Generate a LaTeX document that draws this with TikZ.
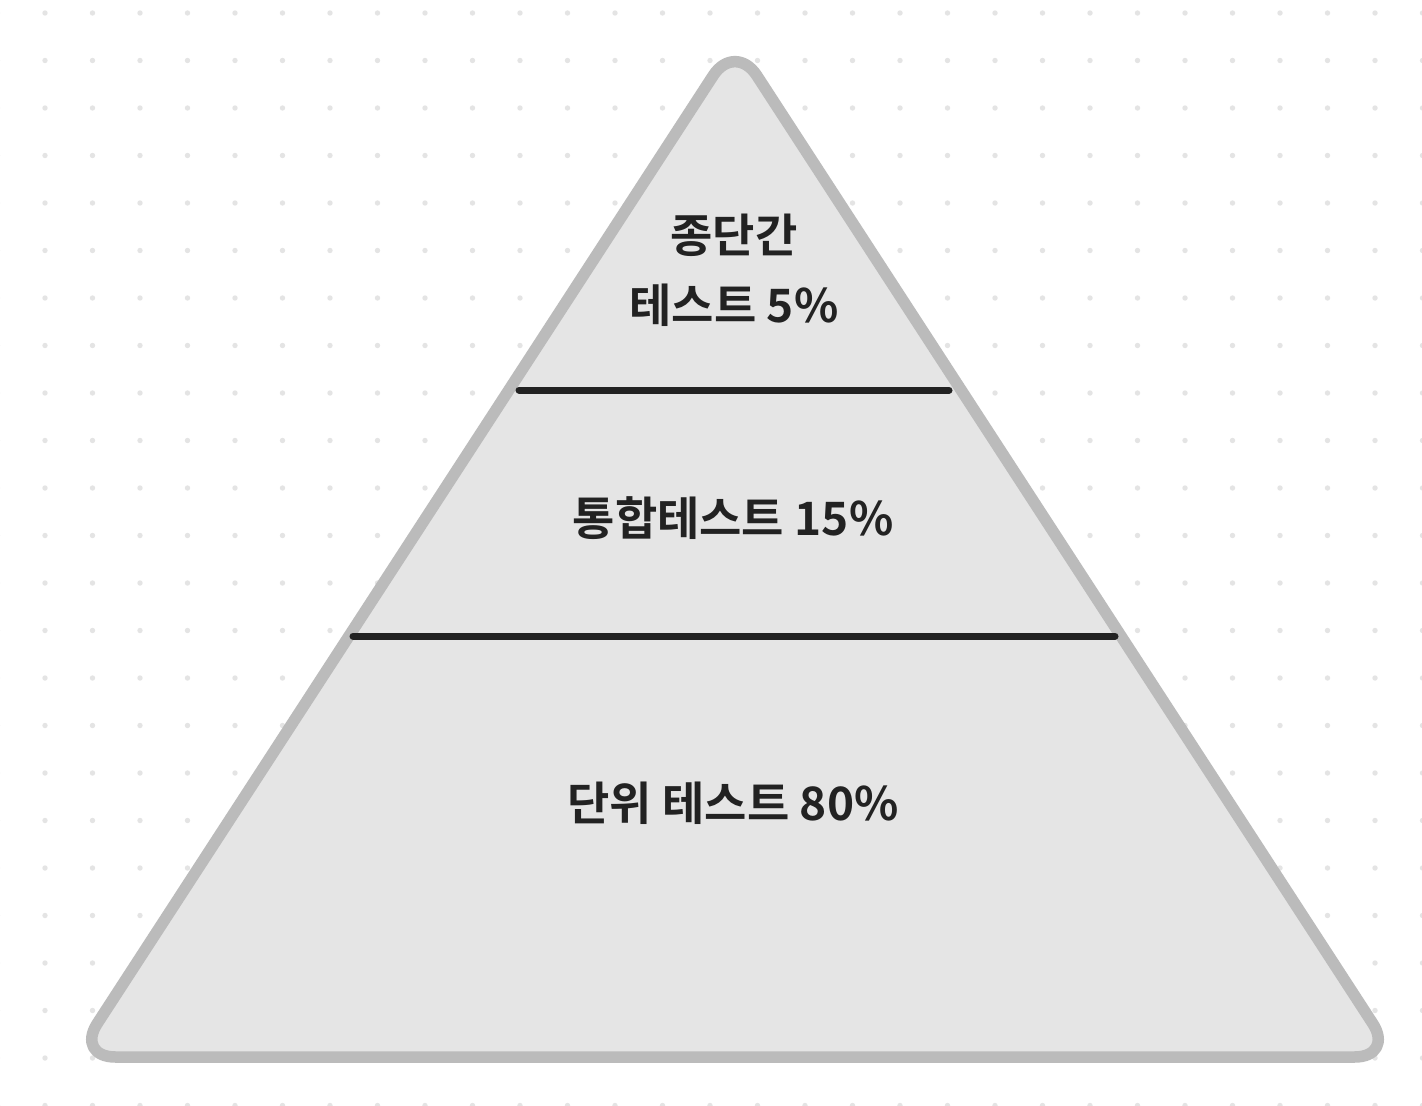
\documentclass[tikz,border=0pt]{standalone}
\usepackage{fontspec}
\newfontfamily\krfont{Noto Sans CJK KR}[BoldFont={* Bold}]
\definecolor{dotgray}{HTML}{E4E4E4}
\definecolor{pyrfill}{HTML}{E5E5E5}
\definecolor{pyredge}{HTML}{BBBBBB}
\definecolor{ink}{HTML}{222222}
\begin{document}
\begin{tikzpicture}[x=1pt,y=-1pt,
  label/.style={font=\krfont\bfseries\fontsize{46}{70}\selectfont, text=ink, align=center, inner sep=0pt},
  divider/.style={line width=7pt, draw=ink, line cap=round}]
\useasboundingbox (0,0) rectangle (1422,1106);
\fill[white] (0,0) rectangle (1422,1106);
\foreach \i in {0,...,30} {
  \foreach \j in {0,...,23} {
    \fill[dotgray] ({-2.5+47.5*\i},{13+47.5*\j}) circle (2.7pt);
  }
}
\draw[line width=11.5pt, draw=pyredge, fill=pyrfill, rounded corners=40pt, line join=round]
  (735,1057) -- (75.5,1057) -- (735,42) -- (1394.5,1057) -- cycle;
\coordinate (l1a) at (519,390);
\coordinate (l1b) at (949,390);
\coordinate (l2a) at (353,636);
\coordinate (l2b) at (1115,636);
\draw[divider] (l1a) -- (l1b);
\draw[divider] (l2a) -- (l2b);
\node[label] (top) at (734,270) {종단간\\테스트 5\%};
\node[label] (mid) at (733,518) {통합테스트 15\%};
\node[label] (bot) at (733,803) {단위 테스트 80\%};
\end{tikzpicture}
\end{document}
